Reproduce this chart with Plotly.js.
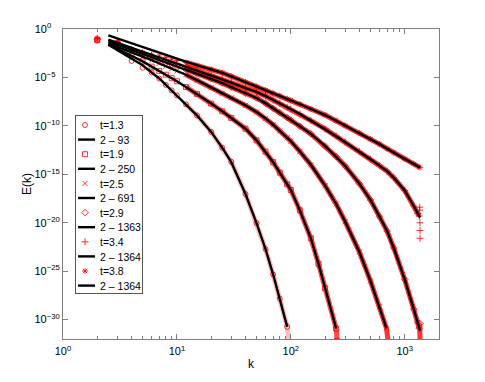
<!DOCTYPE html>
<html><head><meta charset="utf-8">
<script src="https://cdn.plot.ly/plotly-3.0.1.min.js"></script>
<style>html,body{margin:0;padding:0;background:#fff}#chart{width:485px;height:382px}</style>
</head><body><div id="chart"></div>
<script>
// ---------- legend labels ----------
const timeLabels = ['t=1.3', 't=1.9', 't=2.5', 't=2.9', 't=3.4', 't=3.8'];
const fitLabels  = ['2 \u2013 93', '2 \u2013 250', '2 \u2013 691', '2 \u2013 1363', '2 \u2013 1364', '2 \u2013 1364'];

// ---------- tick labels ----------
const xTickVals = [1, 10, 100, 1000];
const xTickText = ['10<sup>0</sup>', '10<sup>1</sup>', '10<sup>2</sup>', '10<sup>3</sup>'];
const yTickVals = [1e-30, 1e-25, 1e-20, 1e-15, 1e-10, 1e-5, 1];
const yTickText = ['10<sup>\u221230</sup>', '10<sup>\u221225</sup>', '10<sup>\u221220</sup>', '10<sup>\u221215</sup>', '10<sup>\u221210</sup>', '10<sup>\u22125\u2007</sup>', '10<sup>0\u2007\u2007</sup>'];

// ---------- data: spectra E(k) (red markers) ----------
const k1 = [2,3,4,5,6,7,8,9,10,12,15,20,25,30,40,50,60,70,80,93,96,100];
const e1 = [6.3e-2,2.8e-2,5.0e-4,1.0e-4,3.2e-5,7.8e-6,1.7e-6,4.6e-7,1.4e-7,1.7e-8,1.2e-9,2.4e-11,5.6e-13,2.0e-14,9.3e-18,9.3e-21,1.9e-23,4.5e-26,1.5e-28,1.8e-31,5.0e-33,1.0e-34];

const k2 = [2,3,4,5,6,7,8,9,10,12,15,20,25,30,40,50,60,70,80,93,100,120,150,175,200,250,255,262];
const e2 = [7.1e-2,3.2e-2,2.0e-3,4.5e-4,1.3e-4,4.7e-5,1.9e-5,8.3e-6,4.0e-6,1.05e-6,2.0e-7,2.0e-8,3.2e-9,6.6e-10,5.1e-11,3.2e-12,2.2e-13,1.8e-14,1.5e-15,9.3e-17,2.4e-17,1.9e-19,2.5e-22,5.9e-25,1.7e-27,1.2e-31,6.3e-33,1.0e-34];

const k3 = [2,3,4,5,6,7,8,9,10,12,15,20,25,30,40,50,60,70,80,93,100,120,150,200,250,300,400,500,600,691,720,740];
const e3 = [7.9e-2,3.5e-2,4.0e-3,1.4e-3,6.0e-4,2.8e-4,1.4e-4,7.8e-5,4.6e-5,1.9e-5,5.2e-6,8.9e-7,2.3e-7,7.8e-8,1.3e-8,2.7e-9,6.0e-10,1.3e-10,3.0e-11,5.9e-12,2.6e-12,2.3e-13,9.5e-15,6.8e-17,8.7e-19,1.3e-20,9.5e-24,1.0e-26,2.1e-29,1.3e-31,3.2e-33,1.0e-34];

const k4 = [2,3,4,5,6,7,8,9,10,12,15,20,25,30,40,50,60,70,80,93,100,120,150,200,250,300,400,500,600,700,800,1000,1200,1300,1340,1358,1364];
const e4 = [8.9e-2,3.8e-2,6.3e-3,2.5e-3,1.1e-3,6.6e-4,3.5e-4,2.2e-4,1.4e-4,6.6e-5,2.6e-5,7.4e-6,2.6e-6,1.0e-6,2.3e-7,7.6e-8,2.1e-8,6.6e-9,2.3e-9,7.2e-10,4.0e-10,9.1e-11,1.5e-11,8.5e-13,6.8e-14,7.2e-15,1.1e-16,2.3e-18,4.5e-20,1.4e-21,2.6e-23,1.4e-26,1.2e-29,5.0e-31,1.3e-31,4.0e-31,3.2e-34];

const k5 = [2,3,4,5,6,7,8,9,10,12,15,20,25,30,40,50,60,70,80,93,100,120,150,200,250,300,400,500,600,700,800,1000,1200,1300,1340,1352,1356,1360,1362,1364];
const e5 = [1.0e-1,4.3e-2,7.9e-3,3.2e-3,1.8e-3,1.0e-3,6.3e-4,4.0e-4,2.7e-4,1.3e-4,5.2e-5,1.6e-5,6.3e-6,2.9e-6,8.1e-7,3.2e-7,1.2e-7,4.7e-8,2.1e-8,8.5e-9,5.5e-9,1.7e-9,3.5e-10,4.8e-11,8.7e-12,2.1e-12,2.3e-13,3.6e-14,7.9e-15,2.1e-15,4.5e-16,2.1e-17,5.4e-19,9.1e-20,5.0e-20,2.0e-19,4.0e-19,1.0e-20,1.6e-21,2.5e-22];

const k6 = [2,3,4,5,6,7,8,9,10,12,15,20,25,30,40,50,60,70,80,93,100,120,150,200,250,300,400,500,600,700,800,1000,1200,1364];
const e6 = [1.1e-1,4.6e-2,7.9e-3,3.5e-3,2.2e-3,1.6e-3,1.1e-3,7.9e-4,5.6e-4,3.5e-4,1.7e-4,7.1e-5,3.0e-5,1.3e-5,3.4e-6,1.1e-6,4.8e-7,2.3e-7,1.3e-7,6.3e-8,4.5e-8,1.8e-8,5.5e-9,1.3e-9,3.4e-10,1.1e-10,1.9e-11,4.3e-12,1.3e-12,4.4e-13,1.7e-13,3.9e-14,1.2e-14,4.9e-15];

// ---------- data: fitted curves (black lines) ----------
const kf1 = [2.5,3,4,5,6,7,8,10,12,15,20,25,30,40,50,60,70,80,93];
const ef1 = [2.4e-2,6.8e-3,9.3e-4,1.8e-4,3.2e-5,7.8e-6,1.7e-6,1.4e-7,1.7e-8,1.2e-9,2.4e-11,5.6e-13,1.8e-14,9.3e-18,9.3e-21,1.9e-23,4.5e-26,1.5e-28,1.8e-31];

const kf2 = [2.5,3,4,5,6,7,8,10,12,15,20,25,30,40,50,60,70,80,93,100,120,150,175,200,250];
const ef2 = [2.7e-2,9.3e-3,1.7e-3,4.5e-4,1.3e-4,4.7e-5,1.9e-5,4.0e-6,1.05e-6,2.0e-7,2.0e-8,3.2e-9,6.6e-10,5.1e-11,3.2e-12,2.2e-13,1.8e-14,1.5e-15,9.3e-17,2.4e-17,1.9e-19,2.5e-22,5.9e-25,1.7e-27,1.2e-31];

const kf3 = [2.5,3,4,5,6,7,8,10,12,15,20,25,30,40,50,60,70,80,93,100,120,150,200,250,300,400,500,600,691];
const ef3 = [3.3e-2,1.5e-2,4.1e-3,1.4e-3,6.0e-4,2.8e-4,1.4e-4,4.6e-5,1.9e-5,5.2e-6,8.9e-7,2.3e-7,7.8e-8,1.3e-8,2.7e-9,6.0e-10,1.3e-10,3.0e-11,5.9e-12,2.6e-12,2.3e-13,9.5e-15,6.8e-17,8.7e-19,1.3e-20,9.5e-24,1.0e-26,2.1e-29,1.3e-31];

const kf4 = [2.5,3,4,5,6,7,8,10,12,15,20,25,30,40,50,60,70,80,93,100,120,150,200,250,300,400,500,600,700,800,1000,1200,1300,1363];
const ef4 = [5.2e-2,2.4e-2,7.1e-3,2.8e-3,1.3e-3,6.6e-4,3.5e-4,1.4e-4,6.6e-5,2.6e-5,7.4e-6,2.6e-6,1.0e-6,2.3e-7,7.6e-8,2.1e-8,6.6e-9,2.3e-9,7.2e-10,4.0e-10,9.1e-11,1.5e-11,8.5e-13,6.8e-14,7.2e-15,1.1e-16,2.3e-18,4.5e-20,1.4e-21,2.6e-23,1.4e-26,1.2e-29,5.0e-31,7.4e-32];

const kf5 = [2.5,3,4,5,6,7,8,10,12,15,20,25,30,40,50,60,70,80,93,100,120,150,200,250,300,400,500,600,700,800,1000,1200,1300,1364];
const ef5 = [7.8e-2,3.6e-2,1.1e-2,4.6e-3,2.2e-3,1.1e-3,6.6e-4,2.7e-4,1.3e-4,5.2e-5,1.6e-5,6.3e-6,2.9e-6,8.1e-7,3.2e-7,1.2e-7,4.7e-8,2.1e-8,8.5e-9,5.5e-9,1.7e-9,3.5e-10,4.8e-11,8.7e-12,2.1e-12,2.3e-13,3.6e-14,7.9e-15,2.1e-15,4.5e-16,2.1e-17,5.4e-19,9.1e-20,3.4e-20];

const kf6 = [2.5,3,4,5,6,7,8,10,12,15,20,25,30,40,50,60,70,80,93,100,120,150,200,250,300,400,500,600,700,800,1000,1200,1364];
const ef6 = [2.2e-1,1.05e-1,3.3e-2,1.4e-2,6.6e-3,3.6e-3,2.1e-3,8.7e-4,4.3e-4,1.9e-4,7.1e-5,3.0e-5,1.3e-5,3.4e-6,1.1e-6,4.8e-7,2.3e-7,1.3e-7,6.3e-8,4.5e-8,1.8e-8,5.5e-9,1.3e-9,3.4e-10,1.1e-10,1.9e-11,4.3e-12,1.3e-12,4.4e-13,1.7e-13,3.9e-14,1.2e-14,4.9e-15];

// ---------- build traces ----------
const dataK = [k1, k2, k3, k4, k5, k6];
const dataE = [e1, e2, e3, e4, e5, e6];
const fitK = [kf1, kf2, kf3, kf4, kf5, kf6];
const fitE = [ef1, ef2, ef3, ef4, ef5, ef6];
const symbols = ['circle-open', 'square-open', 'x-thin-open', 'diamond-open', 'cross-thin-open', 'asterisk-open'];
const haloColors = ['rgba(255,70,70,0.35)', 'rgba(255,0,0,0.7)', 'rgba(255,0,0,0.8)', 'rgba(255,0,0,0.8)', 'rgba(255,0,0,0.8)', 'rgba(255,0,0,0.8)'];
const haloMaxK = [100, 262, 740, 1364, 1340, 1364];

const halos = [], markers = [], fits = [];
for (let i = 0; i < 6; i++) {
  const hk = [], he = [];
  dataK[i].forEach((k, j) => { if (k >= 12 && k <= haloMaxK[i]) { hk.push(k); he.push(dataE[i][j]); } });
  halos.push({ x: hk, y: he, type: 'scatter', mode: 'lines', showlegend: false, hoverinfo: 'skip',
    line: { color: haloColors[i], width: 5 } });
  markers.push({ x: dataK[i], y: dataE[i], type: 'scatter', mode: 'markers', name: timeLabels[i], legendrank: 2 * i + 1,
    marker: { symbol: symbols[i], size: 5, color: '#ff0000', line: { color: '#ff0000', width: 0.8 } } });
  fits.push({ x: fitK[i], y: fitE[i], type: 'scatter', mode: 'lines', name: fitLabels[i], legendrank: 2 * i + 2,
    line: { color: '#000000', width: 2.4 } });
}

const minorX = [];
[1, 10, 100, 1000].forEach(d => { for (let m = 2; m <= 9; m++) { if (d * m <= 2000) minorX.push(d * m); } });

const axisCommon = {
  type: 'log', showgrid: false, zeroline: false, showline: true, linecolor: '#7f7f7f', linewidth: 1,
  mirror: 'ticks', ticks: 'inside', tickcolor: '#7f7f7f', tickwidth: 1, automargin: true,
  tickmode: 'array', tickfont: { size: 11, color: '#000' }
};

const layout = {
  width: 485, height: 382,
  margin: { l: 63, r: 46, t: 29, b: 43, pad: 0 },
  paper_bgcolor: '#ffffff', plot_bgcolor: '#ffffff',
  font: { family: 'Liberation Sans, Arial, Helvetica, sans-serif', size: 11, color: '#000' },
  showlegend: true,
  legend: { x: 0.032, y: 0.7226, xanchor: 'left', yanchor: 'top', bgcolor: '#ffffff',
    bordercolor: '#555555', borderwidth: 1, font: { size: 10.5, color: '#000' }, tracegroupgap: 0, traceorder: 'normal' },
  xaxis: Object.assign({}, axisCommon, {
    range: [0, Math.log10(2000)], tickvals: xTickVals, ticktext: xTickText, ticklen: 5,
    ticklabelstandoff: 2,
    minor: { tickmode: 'array', tickvals: minorX, ticks: 'inside', ticklen: 3, tickcolor: '#7f7f7f', showgrid: false },
    title: { text: 'k', font: { size: 12 }, standoff: 3 }
  }),
  yaxis: Object.assign({}, axisCommon, {
    range: [-32, 0], tickvals: yTickVals, ticktext: yTickText, ticklen: 5,
    ticklabelstandoff: 0,
    title: { text: 'E(k)', font: { size: 12 }, standoff: 0 }
  })
};

function tightenLegend(gd) {
  const leg = gd.querySelector('g.legend');
  if (!leg) return;
  const items = leg.querySelectorAll('g.traces');
  const step = 14.6, first = 10;
  items.forEach((g, i) => {
    const tr = g.getAttribute('transform') || '';
    const m = tr.match(/translate\(\s*([-\d.]+)/);
    const x0 = m ? parseFloat(m[1]) : 1;
    g.setAttribute('transform', 'translate(' + x0 + ',' + (first + i * step) + ')');
    g.querySelectorAll('.legendlines path').forEach(p => p.setAttribute('d', 'M2,0h17'));
    g.querySelectorAll('.legendpoints path').forEach(p => p.setAttribute('transform', 'translate(9,0)'));
    const tx = g.querySelector('text.legendtext');
    if (tx) { tx.setAttribute('x', 24); tx.querySelectorAll('tspan').forEach(t => t.setAttribute('x', 24)); }
  });
  const n = items.length;
  const h = first + (n - 1) * step + 7.6;
  leg.querySelectorAll('rect.bg').forEach(r => { r.setAttribute('height', h); r.setAttribute('width', 67); });
}

Plotly.newPlot('chart', halos.concat(markers, fits), layout, { staticPlot: true, displayModeBar: false })
  .then(gd => { try { tightenLegend(gd); } catch (e) { console.error(e); } });
</script>
</body></html>
